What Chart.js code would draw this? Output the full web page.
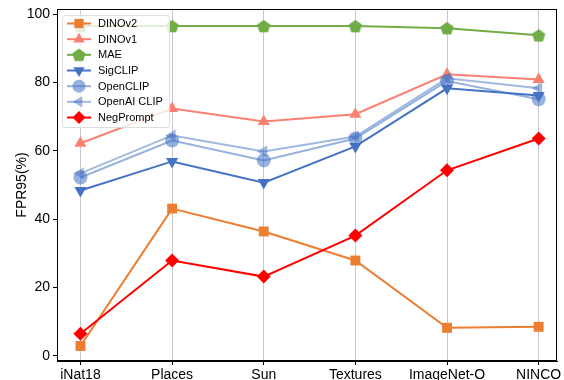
<!DOCTYPE html>
<html>
<head>
<meta charset="utf-8">
<script src="https://cdn.jsdelivr.net/npm/chart.js@4.4.0/dist/chart.umd.min.js"></script>
<style>
  html, body { margin: 0; padding: 0; background: #fff; }
  #wrap { width: 564px; height: 380px; }
</style>
</head>
<body>
<div id="wrap"><canvas id="fprChart" width="564" height="380"></canvas></div>
<script>
// data
var categories = ['iNat18', 'Places', 'Sun', 'Textures', 'ImageNet-O', 'NINCO'];
var seriesNames = ['DINOv2', 'DINOv1', 'MAE', 'SigCLIP', 'OpenCLIP', 'OpenAI CLIP', 'NegPrompt'];
var dinov2 = [2.9, 43.1, 36.4, 27.9, 8.2, 8.5];
var dinov1 = [62.2, 72.4, 68.6, 70.7, 82.4, 80.9];
var mae = [96.5, 96.5, 96.5, 96.5, 95.9, 93.8];
var sigclip = [48.4, 56.9, 50.7, 61.3, 78.3, 76.2];
var openclip = [52.2, 63.0, 57.2, 63.6, 80.4, 75.1];
var openaiClip = [53.4, 64.5, 59.8, 64.2, 81.2, 78.3];
var negprompt = [6.5, 27.9, 23.2, 35.2, 54.3, 63.6];
var yTicks = [0, 20, 40, 60, 80, 100];

// pentagon marker for MAE
function pentagon(color, r) {
    var c = document.createElement('canvas');
    c.width = r * 2 + 2; c.height = r * 2 + 2;
    var g = c.getContext('2d');
    g.fillStyle = color;
    g.beginPath();
    for (var k = 0; k < 5; k++) {
        var a = -Math.PI / 2 + k * 2 * Math.PI / 5;
        var px = r + 1 + r * Math.cos(a), py = r + 1 + r * Math.sin(a) + r * 0.1;
        if (k == 0) g.moveTo(px, py); else g.lineTo(px, py);
    }
    g.closePath();
    g.fill();
    return c;
}

var colors = ['#ED7D31', '#FA8072', '#70AD47', '#4472C4', 'rgba(68,114,196,0.55)', 'rgba(68,114,196,0.5)', '#FF0000'];
var styles = ['rect', 'triangle', pentagon('#70AD47', 7), 'triangle', 'circle', 'triangle', 'rectRot'];
var rotations = [0, 0, 0, 180, 0, 270, 0];
var allData = [dinov2, dinov1, mae, sigclip, openclip, openaiClip, negprompt];

var datasets = [];
for (var i = 0; i < seriesNames.length; i++) {
    var pts = [];
    for (var j = 0; j < categories.length; j++) {
        pts.push({ x: j, y: allData[i][j] });
    }
    datasets.push({
        label: seriesNames[i],
        data: pts,
        borderColor: colors[i],
        backgroundColor: colors[i],
        pointBackgroundColor: colors[i],
        pointBorderWidth: 0,
        pointStyle: styles[i],
        rotation: rotations[i],
        pointRadius: 7,
        borderWidth: 2,
        order: seriesNames.length - i
    });
}

// frame on top and right, plus matplotlib-like legend
var framePlugin = {
    id: 'frame',
    afterDraw: function (chart) {
        var ctx = chart.ctx, a = chart.chartArea;
        ctx.save();
        ctx.strokeStyle = '#000';
        ctx.lineWidth = 1;
        ctx.strokeRect(a.left + 0.5, a.top + 0.5, a.right - a.left - 1, a.bottom - a.top - 1);

        // legend box
        var bx = 62, by = 15, bw = 107, bh = 112;
        ctx.fillStyle = 'rgba(255,255,255,0.8)';
        ctx.strokeStyle = '#dcdcdc';
        ctx.beginPath();
        ctx.roundRect(bx + 0.5, by + 0.5, bw, bh, 3);
        ctx.fill();
        ctx.stroke();
        ctx.font = '11px "Liberation Sans", Arial, sans-serif';
        ctx.textBaseline = 'middle';
        for (var i = 0; i < seriesNames.length; i++) {
            var yy = 23.5 + i * 15.67;
            ctx.strokeStyle = colors[i];
            ctx.lineWidth = 2;
            ctx.beginPath();
            ctx.moveTo(67, yy);
            ctx.lineTo(91, yy);
            ctx.stroke();
            ctx.fillStyle = colors[i];
            Chart.helpers.drawPoint(ctx, {
                pointStyle: styles[i], rotation: rotations[i], radius: 6.5, borderWidth: 0
            }, 79, yy);
            ctx.fillStyle = '#000';
            ctx.fillText(seriesNames[i], 98, yy + 0.5);
        }
        ctx.restore();
    }
};

var config = {
    type: 'line',
    data: { datasets: datasets },
    options: {
        responsive: false,
        animation: false,
        layout: { padding: { top: 9, right: 4, left: 0, bottom: 0 } },
        plugins: { legend: { display: false }, tooltip: { enabled: false } },
        scales: {
            x: {
                type: 'linear',
                min: -0.256,
                max: 5.2,
                afterBuildTicks: function (axis) {
                    axis.ticks = categories.map(function (c, k) { return { value: k }; });
                },
                afterFit: function (axis) {
                    axis.height = 19;
                    axis.paddingLeft = 0;
                    axis.paddingRight = 0;
                },
                ticks: {
                    color: '#000',
                    font: { size: 14, family: '"Liberation Sans", Arial, sans-serif' },
                    padding: 2,
                    maxRotation: 0,
                    autoSkip: false,
                    callback: function (v) { return categories[v]; }
                },
                grid: { color: '#c8c8c8', lineWidth: 1, drawTicks: true, tickLength: 4, tickColor: '#000' },
                border: { color: '#000', width: 1 }
            },
            y: {
                min: -1.5,
                max: 101.5,
                afterBuildTicks: function (axis) {
                    axis.ticks = yTicks.map(function (v) { return { value: v }; });
                },
                afterFit: function (axis) {
                    axis.width = 57;
                    axis.paddingTop = 0;
                    axis.paddingBottom = 0;
                },
                title: {
                    display: true,
                    text: 'FPR95(%)',
                    color: '#000',
                    font: { size: 14, family: '"Liberation Sans", Arial, sans-serif' },
                    padding: { top: 14, bottom: 0 }
                },
                ticks: {
                    color: '#000',
                    font: { size: 14, family: '"Liberation Sans", Arial, sans-serif' },
                    padding: 3
                },
                grid: { display: true, drawOnChartArea: false, tickLength: 4, tickColor: '#000' },
                border: { color: '#000', width: 1 }
            }
        }
    },
    plugins: [framePlugin]
};

var fprChart = new Chart(document.getElementById('fprChart'), config);
</script>
</body>
</html>
